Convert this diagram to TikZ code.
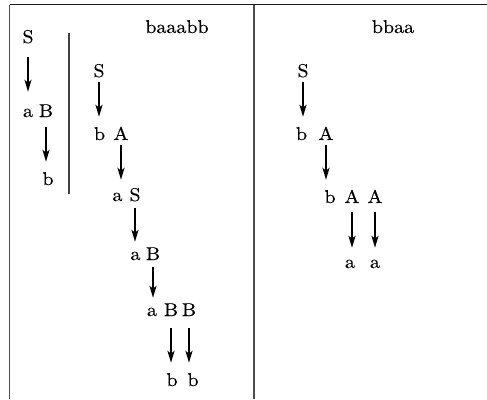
\documentclass[tikz,border=0pt]{standalone}
\usepackage{fontspec}
\setmainfont{lmroman10-regular.otf}[FakeStretch=1.08,FakeBold=0.3]
\usetikzlibrary{arrows.meta}
\tikzset{
  sym/.style={inner sep=0pt, anchor=base, text height=12pt, text depth=0pt,
              font=\fontsize{18.5}{21}\selectfont},
  arr/.style={line width=2pt, -{Stealth[length=12pt,width=7pt,inset=3pt]}},
  rule/.style={line width=1.5pt, black!70},
}
\begin{document}
\begin{tikzpicture}[x=1pt,y=-1pt]
\useasboundingbox (0,0) rectangle (487,399);
% table frame
\draw[rule, black!90] (9.5,4.5) -- (487,4.5);
\draw[rule] (9.5,4.5) -- (9.5,399);
\draw[rule] (254,4.5) -- (254,399);
\draw[line width=1.1pt, black!75] (69,33) -- (69,194);

% headings
\node[sym] (hl) at (177,33) {baaabb};
\node[sym] (hr) at (393,33) {bbaa};

% left: grammar
\node[sym] (lS) at (28,43) {S};
\node[sym] (la) at (28,117) {a};
\node[sym] (lB) at (46,117) {B};
\node[sym] (lb) at (48,185) {b};
\draw[arr, shorten <=14pt, shorten >=13pt] (lS.south) -- (lS.south |- la.north);
\draw[arr, shorten <=10pt, shorten >=11pt] (lB.south) -- (lB.south |- lb.north);

% derivation of baaabb
\node[sym] (mS)  at (99,77)  {S};
\node[sym] (mb1) at (99.5,140) {b};
\node[sym] (mA1) at (121,140) {A};
\node[sym] (ma1) at (117.5,201) {a};
\node[sym] (mS2) at (135,201) {S};
\node[sym] (ma2) at (135.5,260) {a};
\node[sym] (mB1) at (153,260) {B};
\node[sym] (ma3) at (152,316) {a};
\node[sym] (mB2) at (171,316) {B};
\node[sym] (mB3) at (189,316) {B};
\node[sym] (mb2) at (172,386) {b};
\node[sym] (mb3) at (193,386) {b};
\draw[arr, shorten <=5pt, shorten >=11pt] (mS.south) -- (mS.south |- mb1.north);
\draw[arr, shorten <=5pt, shorten >=9pt] (mA1.south) -- (mA1.south |- ma1.north);
\draw[arr, shorten <=7pt, shorten >=6pt] (mS2.south) -- (mS2.south |- ma2.north);
\draw[arr, shorten <=7pt, shorten >=6pt] (mB1.south) -- (mB1.south |- ma3.north);
\draw[arr, shorten <=12pt, shorten >=11pt] (mB2.south) -- (mB2.south |- mb2.north);
\draw[arr, shorten <=12pt, shorten >=11pt] (mB3.south) -- (mB3.south |- mb3.north);

% derivation of bbaa
\node[sym] (rS)  at (303,77)  {S};
\node[sym] (rb1) at (301.5,140) {b};
\node[sym] (rA1) at (326,140) {A};
\node[sym] (rb2) at (330,203) {b};
\node[sym] (rA2) at (352,203) {A};
\node[sym] (rA3) at (375,203) {A};
\node[sym] (ra1) at (350,268) {a};
\node[sym] (ra2) at (375,268) {a};
\draw[arr, shorten <=5pt, shorten >=11pt] (rS.south) -- (rS.south |- rb1.north);
\draw[arr, shorten <=5pt, shorten >=11pt] (rA1.south) -- (rA1.south |- rb2.north);
\draw[arr, shorten <=9pt, shorten >=8pt] (rA2.south) -- (rA2.south |- ra1.north);
\draw[arr, shorten <=9pt, shorten >=8pt] (rA3.south) -- (rA3.south |- ra2.north);
\end{tikzpicture}
\end{document}
